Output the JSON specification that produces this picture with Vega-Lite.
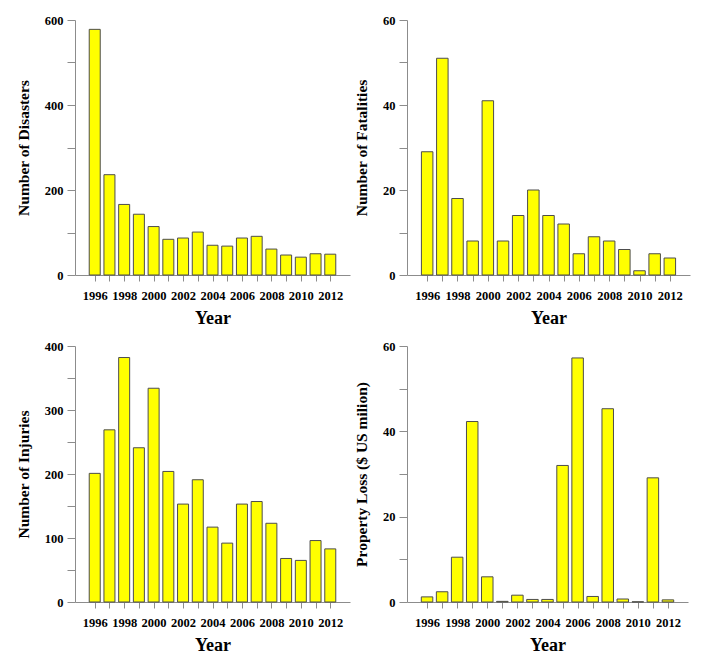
{
  "$schema": "https://vega.github.io/schema/vega-lite/v6.json",
  "background": "white",
  "padding": {"left": 16, "top": 14, "right": 5, "bottom": 0},
  "spacing": 12,
  "datasets": {
    "d": [
      {"year": 1996, "disasters": 578, "fatalities": 29, "injuries": 201, "property": 1.2},
      {"year": 1997, "disasters": 236, "fatalities": 51, "injuries": 269, "property": 2.4},
      {"year": 1998, "disasters": 166, "fatalities": 18, "injuries": 382, "property": 10.5},
      {"year": 1999, "disasters": 143, "fatalities": 8, "injuries": 241, "property": 42.3},
      {"year": 2000, "disasters": 114, "fatalities": 41, "injuries": 334, "property": 5.9},
      {"year": 2001, "disasters": 84, "fatalities": 8, "injuries": 204, "property": 0.15},
      {"year": 2002, "disasters": 87, "fatalities": 14, "injuries": 153, "property": 1.6},
      {"year": 2003, "disasters": 101, "fatalities": 20, "injuries": 191, "property": 0.6},
      {"year": 2004, "disasters": 70, "fatalities": 14, "injuries": 117, "property": 0.6},
      {"year": 2005, "disasters": 68, "fatalities": 12, "injuries": 92, "property": 32.0},
      {"year": 2006, "disasters": 87, "fatalities": 5, "injuries": 153, "property": 57.2},
      {"year": 2007, "disasters": 91, "fatalities": 9, "injuries": 157, "property": 1.3},
      {"year": 2008, "disasters": 61, "fatalities": 8, "injuries": 123, "property": 45.3},
      {"year": 2009, "disasters": 47, "fatalities": 6, "injuries": 68, "property": 0.7},
      {"year": 2010, "disasters": 42, "fatalities": 1, "injuries": 65, "property": 0.05},
      {"year": 2011, "disasters": 50, "fatalities": 5, "injuries": 96, "property": 29.1},
      {"year": 2012, "disasters": 49, "fatalities": 4, "injuries": 83, "property": 0.5}
    ]
  },
  "config": {
    "view": {"stroke": null},
    "font": "Liberation Serif",
    "axis": {
      "domainColor": "#8c8c8c",
      "tickColor": "#8c8c8c",
      "grid": false,
      "labelFont": "Liberation Serif",
      "labelFontWeight": "bold",
      "labelFontSize": 12.5,
      "labelColor": "black",
      "titleFont": "Liberation Serif",
      "titleFontWeight": "bold",
      "titleColor": "black",
      "labelOverlap": false,
      "labelFlush": false
    },
    "axisX": {"tickSize": 6, "labelPadding": 8, "titleFontSize": 18, "titlePadding": 8},
    "axisY": {"tickSize": 8, "labelPadding": 4, "titleFontSize": 15.5, "titlePadding": 13},
    "bar": {"color": "#ffff00", "stroke": "#4d4d4d", "strokeWidth": 1}
  },
  "vconcat": [
    {
      "spacing": 4,
      "hconcat": [
        {
          "width": 275, "height": 255,
          "data": {"name": "d"},
          "mark": {"type": "bar", "size": 11},
          "encoding": {
            "x": {"field": "year", "type": "quantitative", "title": "Year",
                  "scale": {"domain": [1995, 2013], "nice": false, "zero": false},
                  "axis": {"values": [1996,1997,1998,1999,2000,2001,2002,2003,2004,2005,2006,2007,2008,2009,2010,2011,2012], "format": "d", "labelExpr": "datum.value % 2 == 0 ? datum.label : ''"}},
            "y": {"field": "disasters", "type": "quantitative", "title": "Number of Disasters",
                  "scale": {"domain": [0, 600], "nice": false},
                  "axis": {"values": [0,100,200,300,400,500,600], "labelExpr": "datum.value % 200 == 0 ? datum.label : ''"}}
          }
        },
        {
          "width": 283, "height": 255,
          "data": {"name": "d"},
          "mark": {"type": "bar", "size": 11.5},
          "encoding": {
            "x": {"field": "year", "type": "quantitative", "title": "Year",
                  "scale": {"domain": [1995, 2013], "nice": false, "zero": false},
                  "axis": {"values": [1996,1997,1998,1999,2000,2001,2002,2003,2004,2005,2006,2007,2008,2009,2010,2011,2012], "format": "d", "labelExpr": "datum.value % 2 == 0 ? datum.label : ''"}},
            "y": {"field": "fatalities", "type": "quantitative", "title": "Number of Fatalities",
                  "scale": {"domain": [0, 60], "nice": false},
                  "axis": {"values": [0,10,20,30,40,50,60], "labelExpr": "datum.value % 20 == 0 ? datum.label : ''"}}
          }
        }
      ]
    },
    {
      "spacing": 4,
      "hconcat": [
        {
          "width": 275, "height": 256,
          "data": {"name": "d"},
          "mark": {"type": "bar", "size": 11},
          "encoding": {
            "x": {"field": "year", "type": "quantitative", "title": "Year",
                  "scale": {"domain": [1995, 2013], "nice": false, "zero": false},
                  "axis": {"values": [1996,1997,1998,1999,2000,2001,2002,2003,2004,2005,2006,2007,2008,2009,2010,2011,2012], "format": "d", "labelExpr": "datum.value % 2 == 0 ? datum.label : ''"}},
            "y": {"field": "injuries", "type": "quantitative", "title": "Number of Injuries",
                  "scale": {"domain": [0, 400], "nice": false},
                  "axis": {"values": [0,50,100,150,200,250,300,350,400], "labelExpr": "datum.value % 100 == 0 ? datum.label : ''"}}
          }
        },
        {
          "width": 281, "height": 256,
          "data": {"name": "d"},
          "mark": {"type": "bar", "size": 11.5},
          "encoding": {
            "x": {"field": "year", "type": "quantitative", "title": "Year",
                  "scale": {"domain": [1995, 2013], "nice": false, "zero": false},
                  "axis": {"values": [1996,1997,1998,1999,2000,2001,2002,2003,2004,2005,2006,2007,2008,2009,2010,2011,2012], "format": "d", "labelExpr": "datum.value % 2 == 0 ? datum.label : ''"}},
            "y": {"field": "property", "type": "quantitative", "title": "Property Loss ($ US milion)",
                  "scale": {"domain": [0, 60], "nice": false},
                  "axis": {"values": [0,10,20,30,40,50,60], "labelExpr": "datum.value % 20 == 0 ? datum.label : ''"}}
          }
        }
      ]
    }
  ]
}
